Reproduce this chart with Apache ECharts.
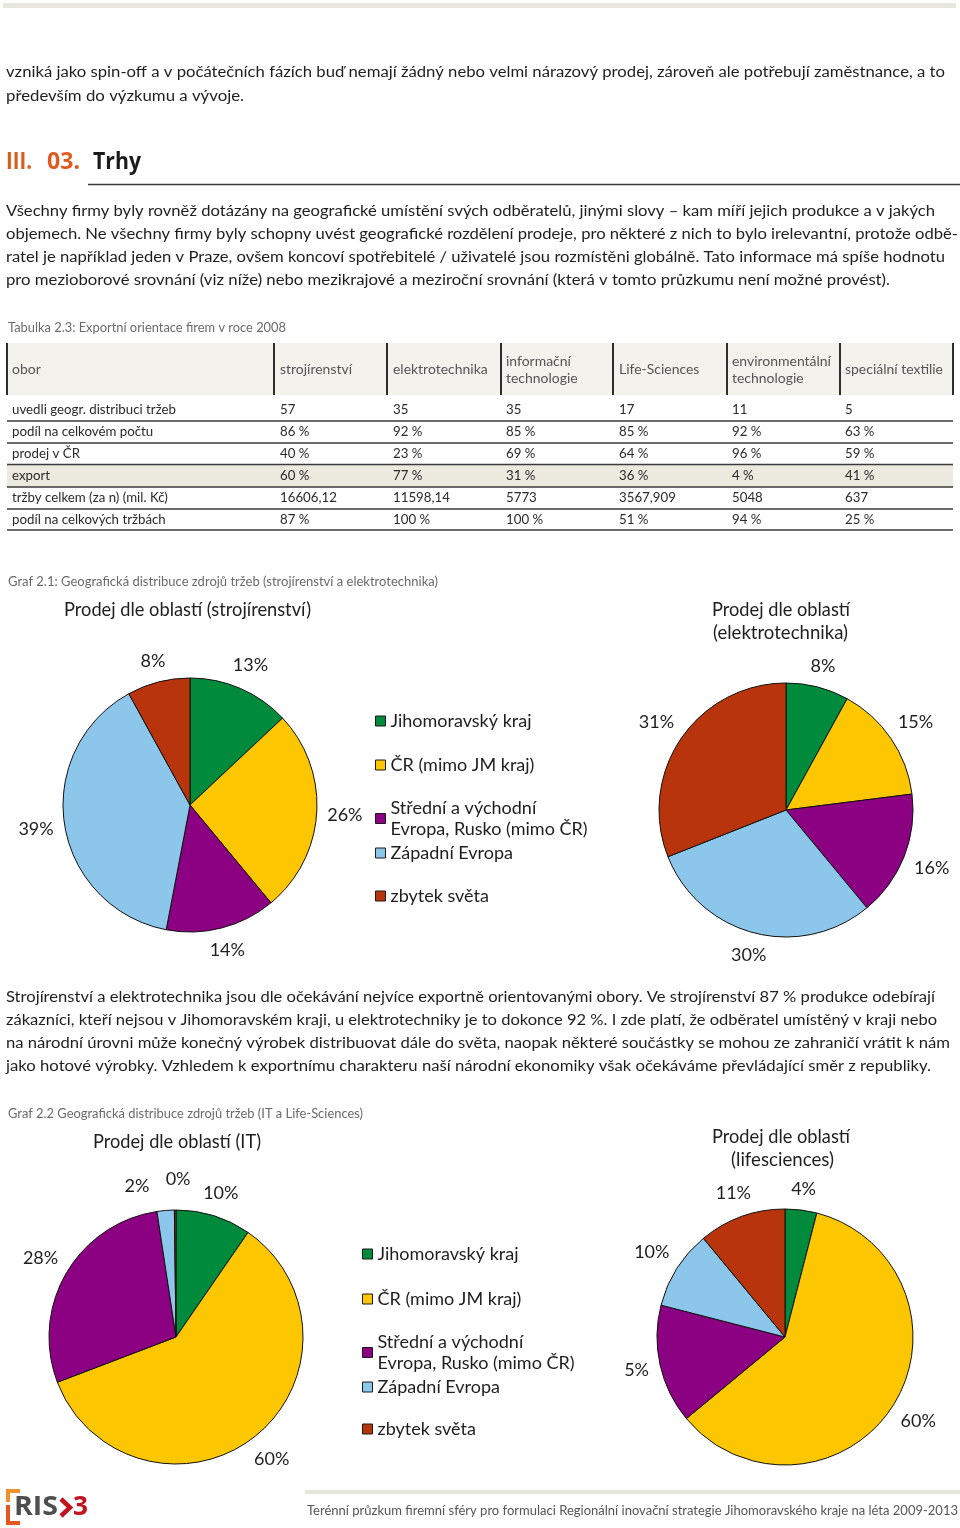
<!DOCTYPE html>
<html><head><meta charset="utf-8">
<script src="https://cdn.jsdelivr.net/npm/echarts@6/dist/echarts.min.js"></script>
<style>html,body{margin:0;padding:0;background:#fff}#c{width:960px;height:1528px}</style>
</head><body><div id="c"></div>
<script>
// ---------------- DATA ----------------
const regions = ['Jihomoravský kraj','ČR (mimo JM kraj)','Střední a východní Evropa, Rusko (mimo ČR)','Západní Evropa','zbytek světa'];
const engineeringShares = [13, 26, 14, 39, 8];
const engineeringLabels = ['13%','26%','14%','39%','8%'];
const electroShares = [8, 15, 16, 30, 31];
const electroLabels = ['8%','15%','16%','30%','31%'];
const itShares = [9.6, 59.6, 28.4, 2.2, 0.2];
const itLabels = ['10%','60%','28%','2%','0%'];
const lifeSciShares = [4, 60, 15, 10, 11];
const lifeSciLabels = ['4%','60%','5%','10%','11%'];

const tableColumns = ['obor','strojírenství','elektrotechnika','informační\ntechnologie','Life-Sciences','environmentální\ntechnologie','speciální textilie'];
const tableRowLabels = ['uvedli geogr. distribuci tržeb','podíl na celkovém počtu','prodej v ČR','export','tržby celkem (za n) (mil. Kč)','podíl na celkových tržbách'];
const firmsReported = [57, 35, 35, 17, 11, 5];
const shareOfCount = [86, 92, 85, 85, 92, 63];
const salesCZ = [40, 23, 69, 64, 96, 59];
const exportShare = [60, 77, 31, 36, 4, 41];
const totalSales = ['16606,12','11598,14','5773','3567,909','5048','637'];
const shareOfSales = [87, 100, 100, 51, 94, 25];

const introLines = ['vzniká jako spin-off a v počátečních fázích buď nemají žádný nebo velmi nárazový prodej, zároveň ale potřebují zaměstnance, a to','především do výzkumu a vývoje.'];
const marketsLines = ['Všechny firmy byly rovněž dotázány na geografické umístění svých odběratelů, jinými slovy – kam míří jejich produkce a v jakých','objemech. Ne všechny firmy byly schopny uvést geografické rozdělení prodeje, pro některé z nich to bylo irelevantní, protože odbě-','ratel je například jeden v Praze, ovšem koncoví spotřebitelé / uživatelé jsou rozmístěni globálně. Tato informace má spíše hodnotu','pro mezioborové srovnání (viz níže) nebo mezikrajové a meziroční srovnání (která v tomto průzkumu není možné provést).'];
const conclusionLines = ['Strojírenství a elektrotechnika jsou dle očekávání nejvíce exportně orientovanými obory. Ve strojírenství 87 % produkce odebírají','zákazníci, kteří nejsou v Jihomoravském kraji, u elektrotechniky je to dokonce 92 %. I zde platí, že odběratel umístěný v kraji nebo','na národní úrovni může konečný výrobek distribuovat dále do světa, naopak některé součástky se mohou ze zahraničí vrátit k nám','jako hotové výrobky. Vzhledem k exportnímu charakteru naší národní ekonomiky však očekáváme převládající směr z republiky.'];
const tableCaption = 'Tabulka 2.3: Exportní orientace firem v roce 2008';
const graf1Caption = 'Graf 2.1: Geografická distribuce zdrojů tržeb (strojírenství a elektrotechnika)';
const graf2Caption = 'Graf 2.2 Geografická distribuce zdrojů tržeb (IT a Life-Sciences)';
const footerText = 'Terénní průzkum firemní sféry pro formulaci Regionální inovační strategie Jihomoravského kraje na léta 2009-2013';

// ---------------- STYLE / LAYOUT ----------------
const FONT = 'Lato';
const HEAD_FONT = '"Open Sans"';
const sliceColors = ['#008a3c','#fcc700','#8c0082','#8cc7eb','#b8340d'];
const legendText = {'Střední a východní Evropa, Rusko (mimo ČR)':'Střední a východní\nEvropa, Rusko (mimo ČR)'};

const mctx = document.createElement('canvas').getContext('2d');
function tw(str, size, weight, family){ mctx.font = weight+' '+size+'px '+family; return mctx.measureText(str).width; }
function T(str, x, y, o){
  o = o || {};
  const size = o.size || 15.5, weight = o.weight || 'normal', family = o.family || FONT;
  let sx = o.scale || 1;
  if (o.width) sx = o.width / tw(str, size, weight, family);
  return {type:'text', x:x, y:y, scaleX:sx, silent:true, z:10,
    style:{text:str, x:0, y:0, font: weight+' '+size+'px '+family, fill:o.color||'#1e1e1e',
      textAlign:o.align||'left', textVerticalAlign:'middle'}};
}
function R(x,y,w,h,fill){ return {type:'rect', silent:true, shape:{x:x,y:y,width:w,height:h}, style:{fill:fill}}; }
function L(x1,y1,x2,y2,stroke,lw){ return {type:'line', silent:true, z:5, shape:{x1:x1,y1:y1,x2:x2,y2:y2}, style:{stroke:stroke, lineWidth:lw}}; }

const els = [];
// top bar
els.push(R(3,3,953,5,'#e9e7dd'));
// intro paragraph
const introY = [72,96], introW = [939,238];
introLines.forEach((t,i)=>els.push(T(t,6,introY[i],{width:introW[i]})));
// heading
els.push(T('III.',6,162,{size:23,weight:'bold',family:HEAD_FONT,color:'#de5b1d',width:26}));
els.push(T('03.',47,162,{size:23,weight:'bold',family:HEAD_FONT,color:'#de5b1d',width:33}));
els.push(T('Trhy',93,162,{size:23,weight:'bold',family:HEAD_FONT,color:'#1a1a1a',width:48}));
els.push(L(88,184.5,960,184.5,'#3c3c3c',1.5));
// markets paragraph
const marketsY = [211,234,257,280], marketsW = [929,952,939,884];
marketsLines.forEach((t,i)=>els.push(T(t,6,marketsY[i],{width:marketsW[i]})));
// table caption
els.push(T(tableCaption,8,328,{size:13.5,color:'#6a6a6a',width:278}));
// table
els.push(R(7,343,946,52,'#f4f2ec'));
els.push(R(7,465,946,22,'#ece9df'));
const colX = [12,280,393,506,619,732,845];
const sepX = [7,274,387,501,613,727,840,953];
sepX.forEach(x=>els.push(L(x,343,x,395,'#2e2e2e',2)));
const hdrScale = 72 / tw('strojírenství',13,'normal',FONT);
tableColumns.forEach((h,i)=>{
  const parts = h.split('\n');
  if (parts.length === 1) els.push(T(h,colX[i],370,{size:13,color:'#555',scale:hdrScale}));
  else parts.forEach((p,j)=>els.push(T(p,colX[i],362+17*j,{size:13,color:'#555',scale:hdrScale})));
});
const rowScale = 164 / tw('uvedli geogr. distribuci tržeb',13,'normal',FONT);
const rowY = [410,432,454,476,498,520];
const rowLineY = [421,443,464.5,487,509,530];
const pct = v => v + ' %';
const tableRows = [firmsReported.map(String), shareOfCount.map(pct), salesCZ.map(pct), exportShare.map(pct), totalSales, shareOfSales.map(pct)];
tableRowLabels.forEach((lab,r)=>{
  els.push(T(lab,colX[0],rowY[r],{size:13,color:'#2a2a2a',scale:rowScale}));
  tableRows[r].forEach((v,c)=>els.push(T(v,colX[c+1],rowY[r],{size:13,color:'#2a2a2a',scale:rowScale})));
  els.push(L(7,rowLineY[r],953,rowLineY[r],'#3a3a3a',1.5));
});
// graf captions & titles
els.push(T(graf1Caption,8,582,{size:13.5,color:'#6a6a6a',width:430}));
els.push(T('Prodej dle oblastí (strojírenství)',64,610,{size:19,color:'#1e1e1e',width:247}));
els.push(T('Prodej dle oblastí',712,610,{size:19,color:'#1e1e1e',width:138}));
els.push(T('(elektrotechnika)',713,633,{size:19,color:'#1e1e1e',width:135}));
// conclusion paragraph
const conclY = [997,1020,1043,1066], conclW = [929,931,944,925];
conclusionLines.forEach((t,i)=>els.push(T(t,6,conclY[i],{width:conclW[i]})));
els.push(T(graf2Caption,8,1114,{size:13.5,color:'#6a6a6a',width:355}));
els.push(T('Prodej dle oblastí (IT)',93,1142,{size:19,color:'#1e1e1e',width:168}));
els.push(T('Prodej dle oblastí',712,1137,{size:19,color:'#1e1e1e',width:138}));
els.push(T('(lifesciences)',731,1160,{size:19,color:'#1e1e1e',width:103}));
// footer
els.push(R(305,1490,655,4,'#e7e4da'));
els.push(T(footerText,307,1511,{size:13.5,color:'#555',width:651}));
// logo
els.push(R(6,1489,14,4,'#f0922a'));
els.push(R(6,1489,4,13,'#f0922a'));
els.push(R(6,1505,4,20,'#e4561e'));
els.push(R(6,1521,14,4,'#e4561e'));
els.push(T('RIS',14,1508,{size:26,weight:'bold',family:HEAD_FONT,color:'#4e4e4e',width:44}));
els.push({type:'polyline', silent:true, shape:{points:[[61,1499],[70,1507.5],[61,1516]]}, style:{stroke:'#c0141f', lineWidth:4.5, fill:null}});
els.push(T('3',73,1508,{size:26,weight:'bold',family:HEAD_FONT,color:'#c0141f',width:15}));

// ---------------- PIES ----------------
function pieLabelLayout(values, cx, cy, r, nudges){
  const total = values.reduce((a,b)=>a+b,0);
  const mids = []; let s = 0;
  values.forEach(v=>{ mids.push(s+v/2); s+=v; });
  return function(p){
    const i = p.dataIndex;
    const th = 2*Math.PI*mids[i]/total;
    const dx = Math.sin(th), dy = -Math.cos(th);
    const w = p.labelRect.width, h = p.labelRect.height;
    const d = r + 10 + Math.abs(dx)*w/2 + Math.abs(dy)*h/2;
    const n = (nudges && nudges[i]) || [0,0];
    return {x: cx+dx*d+n[0], y: cy+dy*d+n[1], align:'center', verticalAlign:'middle'};
  };
}
function pie(values, labels, cx, cy, r, nudges){
  return {type:'pie', center:[cx,cy], radius:r, startAngle:90, clockwise:true,
    avoidLabelOverlap:false, animation:false, silent:true,
    data: values.map((v,i)=>({name:regions[i], value:v, itemStyle:{color:sliceColors[i]}})),
    itemStyle:{borderColor:'#111', borderWidth:1},
    label:{show:true, position:'outside', formatter:p=>labels[p.dataIndex], fontFamily:FONT, fontSize:18, color:'#1e1e1e'},
    labelLine:{show:false},
    labelLayout: pieLabelLayout(values, cx, cy, r, nudges),
    emphasis:{disabled:true}};
}

function legends(left, tops){
  return regions.map((n,i)=>({data:[n], left:left, top:tops[i], orient:'vertical', padding:0, itemGap:0,
    itemWidth:10, itemHeight:10, icon:'rect', selectedMode:false,
    itemStyle:{borderColor:'#1a1a1a', borderWidth:1},
    textStyle:{fontFamily:FONT, fontSize:18, color:'#1e1e1e', lineHeight:21},
    formatter: nm => legendText[nm] || nm}));
}

const chart = echarts.init(document.getElementById('c'), null, {renderer:'canvas'});
chart.setOption({
  animation:false,
  backgroundColor:'#ffffff',
  legend: legends(375,[710.5,754.5,797.5,842.5,885.5]).concat(legends(362,[1243.5,1288.5,1331.5,1376.5,1418.5])),
  graphic:{elements:els},
  series:[
    pie(engineeringShares, engineeringLabels, 190, 805, 127),
    pie(electroShares, electroLabels, 786, 810, 127),
    pie(itShares, itLabels, 176, 1337, 127, {3:[-27,-4], 4:[3,-12]}),
    pie(lifeSciShares, lifeSciLabels, 785, 1337, 128)
  ]
});
</script></body></html>
